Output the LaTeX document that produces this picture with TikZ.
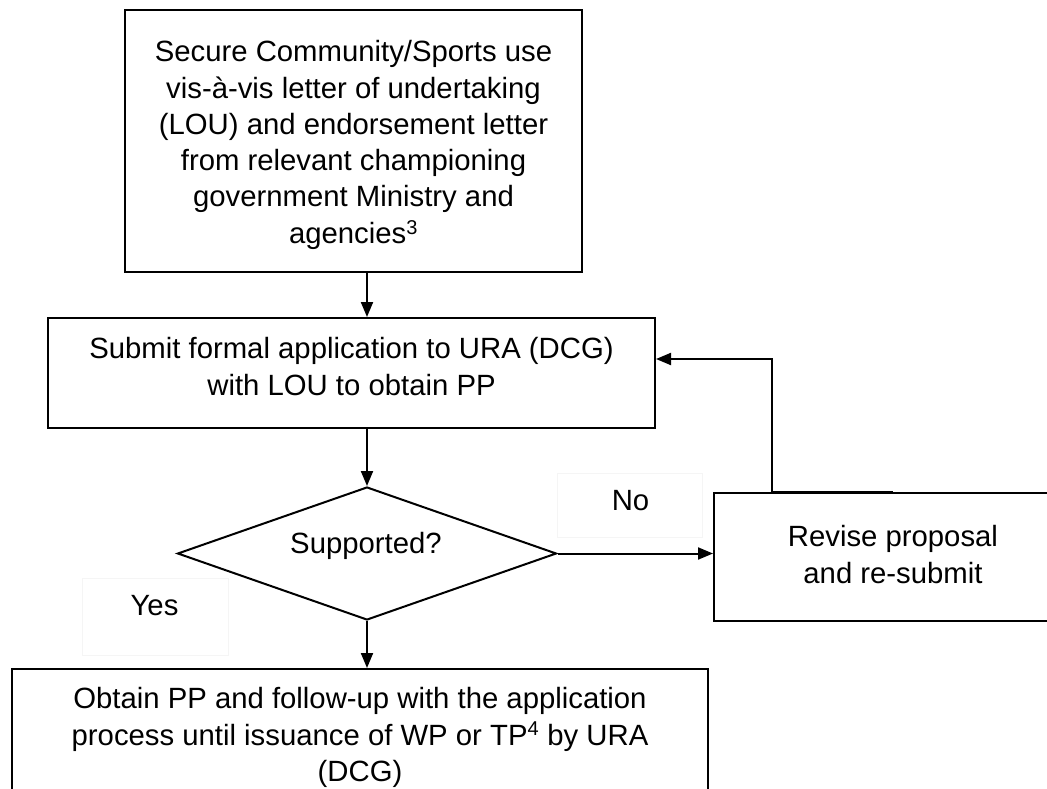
\documentclass[tikz,border=0pt]{standalone}
\usepackage{fontspec}
\setmainfont{Liberation Sans}
\usetikzlibrary{arrows.meta,shapes.geometric,calc}
\newcommand{\tstr}{\rule{0pt}{22pt}}
\newcommand{\bstr}{\rule[-7pt]{0pt}{7pt}}
\begin{document}
\begin{tikzpicture}[x=1pt,y=-1pt,
  box/.style={draw=black,line width=2pt,rectangle,inner sep=0pt},
  lbl/.style={draw=black!4,line width=0.6pt,rectangle,inner sep=0pt},
  txt/.style={font=\fontsize{29.3}{36.3}\selectfont,align=center,inner sep=0pt},
  arr/.style={line width=2pt,-{Triangle[length=15pt,width=12pt]}}]
\useasboundingbox (0,0) rectangle (1047,789);
\clip (0,0) rectangle (1047,789);
% boxes
\node[box,minimum width=457pt,minimum height=262pt] (top) at (353.5,141) {};
\node[box,minimum width=607pt,minimum height=110pt] (submit) at (351.5,373) {};
\node[box,diamond,minimum width=379pt,minimum height=133pt] (dia) at (367,553.5) {};
\node[box,minimum width=358pt,minimum height=128pt] (revise) at (893,557) {};
\node[box,minimum width=696pt,minimum height=137pt] (final) at (360,737.5) {};
\node[lbl,minimum width=145pt,minimum height=64pt] (nobox) at (629.5,505) {};
\node[lbl,minimum width=146pt,minimum height=77pt] (yesbox) at (155,616.5) {};
% texts
\node[txt] (topt) at (353.5,145) {\tstr Secure Community/Sports use\\ vis-à-vis letter of undertaking\\ (LOU) and endorsement letter\\ from relevant championing\\ government Ministry and\\ agencies\textsuperscript{\fontsize{20}{20}\selectfont 3}\bstr};
\node[txt] (submitt) at (351.5,369.5) {\tstr Submit formal application to URA (DCG)\\ with LOU to obtain PP\bstr};
\node[txt] (diat) at (366,545.5) {\tstr Supported?\bstr};
\node[txt] (reviset) at (893,557.5) {\tstr Revise proposal\\ and re-submit\bstr};
\node[txt] (finalt) at (360,737.5) {\tstr Obtain PP and follow-up with the application\\ process until issuance of WP or TP\textsuperscript{\fontsize{20}{20}\selectfont 4} by URA\\ (DCG)\bstr};
\node[txt] (no) at (630.5,502.5) {\tstr No\bstr};
\node[txt] (yes) at (154.5,607.5) {\tstr Yes\bstr};
% connectors
\coordinate (fb) at (772,359);
\draw[arr] (top.south -| dia.north) -- (submit.north -| dia.north);
\draw[arr] (submit.south -| dia.north) -- (dia.north);
\draw[arr] (dia.east) -- (dia.east -| revise.west);
\draw[arr] (revise.north) -- (revise.north -| fb) -- (fb) -- (fb -| submit.east);
\draw[arr] (dia.south) -- (final.north -| dia.south);
\end{tikzpicture}
\end{document}
